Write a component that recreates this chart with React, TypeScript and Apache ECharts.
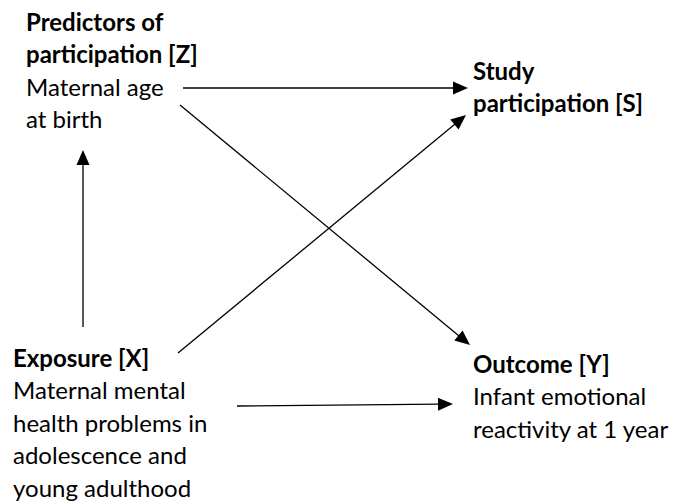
import React, { useEffect, useRef } from "react";
import * as echarts from "echarts";

// Node text blocks: [x, yFirstLineCenter], lines with bold flag
const nodeNames = ["Z", "S", "X", "Y"];
const nodeAnchors: [number, number][] = [
  [26, 21],
  [473, 70],
  [13, 357],
  [473, 363],
];
const nodeLines: string[][] = [
  ["Predictors of", "participation [Z]", "Maternal age", "at birth"],
  ["Study", "participation [S]"],
  ["Exposure [X]", "Maternal mental", "health problems in", "adolescence and", "young adulthood"],
  ["Outcome [Y]", "Infant emotional", "reactivity at 1 year"],
];
const nodeBoldCount = [2, 2, 1, 1];

// Edges: from point -> arrow tip
const edgeNames = ["Z→S", "Z→Y", "X→S", "X→Y", "X→Z"];
const edgeFrom: [number, number][] = [
  [183, 88],
  [180, 105],
  [178, 353],
  [237, 406],
  [83, 327],
];
const edgeTo: [number, number][] = [
  [468, 88],
  [470, 345],
  [466, 115],
  [453, 404],
  [83, 150],
];

const LINE_H = 32.5;
const FONT = "Lato, 'Noto Sans', sans-serif";
const ARROW_LEN = 15;
const ARROW_HALF = 6.5;

export default function App() {
  const ref = useRef<HTMLDivElement>(null);
  useEffect(() => {
    if (!ref.current) return;
    const chart = echarts.init(ref.current, undefined, { renderer: "svg" });
    const elements: any[] = [];
    nodeNames.forEach((n, i) => {
      const [x, y] = nodeAnchors[i];
      nodeLines[i].forEach((t, j) => {
        elements.push({
          type: "text",
          x,
          y: y + j * LINE_H,
          style: {
            text: t,
            fill: "#000",
            fontFamily: FONT,
            fontSize: 24,
            fontWeight: j < nodeBoldCount[i] ? "bold" : "normal",
            verticalAlign: "middle",
            align: "left",
          },
        });
      });
    });
    edgeNames.forEach((e, i) => {
      const [x1, y1] = edgeFrom[i];
      const [x2, y2] = edgeTo[i];
      const dx = x2 - x1;
      const dy = y2 - y1;
      const len = Math.sqrt(dx * dx + dy * dy);
      const ux = dx / len;
      const uy = dy / len;
      const bx = x2 - ux * ARROW_LEN;
      const by = y2 - uy * ARROW_LEN;
      elements.push({
        type: "line",
        shape: { x1, y1, x2: bx + ux * 2, y2: by + uy * 2 },
        style: { stroke: "#000", lineWidth: 1.3 },
      });
      elements.push({
        type: "polygon",
        shape: {
          points: [
            [x2, y2],
            [bx - uy * ARROW_HALF, by + ux * ARROW_HALF],
            [bx + uy * ARROW_HALF, by - ux * ARROW_HALF],
          ],
        },
        style: { fill: "#000" },
      });
    });
    chart.setOption({
      animation: false,
      backgroundColor: "#fff",
      graphic: { elements },
    });
    return () => chart.dispose();
  }, []);
  return <div ref={ref} style={{ width: 677, height: 502, position: "absolute", left: 0, top: 0 }} />;
}
